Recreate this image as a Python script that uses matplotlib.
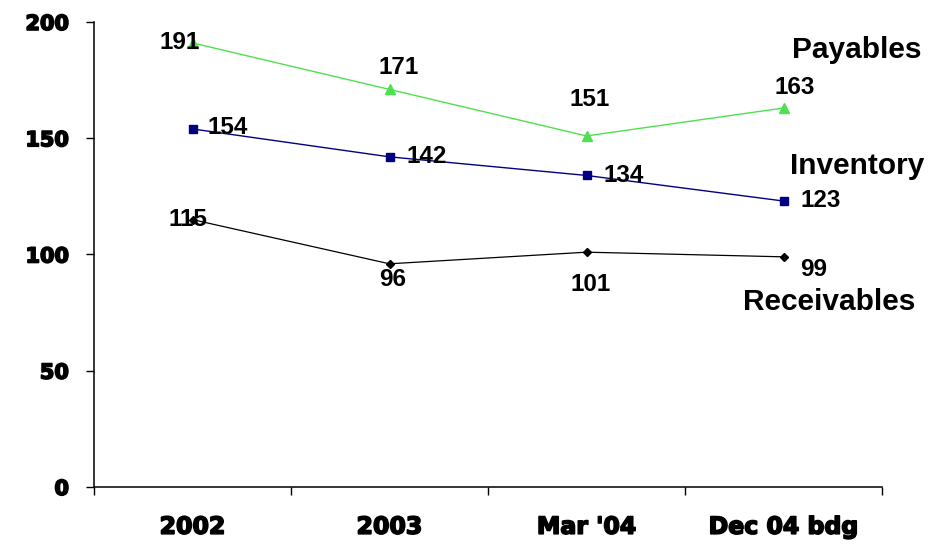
import numpy as np
import matplotlib.pyplot as plt
import matplotlib.patheffects as pe

categories = ["2002", "2003", "Mar '04", "Dec 04 bdg"]
payables = [191, 171, 151, 163]
inventory = [154, 142, 134, 123]
receivables = [115, 96, 101, 99]

# label offsets in pixels (dx, dy) from each point
pay_off = [(-13, 0), (9, 22), (3, 36), (11, 21)]
inv_off = [(35, 1), (37, 0), (37, 0), (37, 1)]
rec_off = [(-5, 0), (3, -16), (4, -32), (30, -13)]

DPI = 100
W, H = 947, 545


def px2pt(v):
    return v * 72.0 / DPI


def main():
    fig = plt.figure(figsize=(W / DPI, H / DPI), dpi=DPI)
    ax = fig.add_axes([94 / W, (H - 487) / H, (882 - 94) / W, (487 - 22) / H])

    x = np.arange(len(categories)) + 0.5

    ax.plot(x, payables, color="#4ee04e", lw=1.0, marker="^", ms=7, mec="#4ee04e")
    ax.plot(x, inventory, color="#000080", lw=1.0, marker="s", ms=5.5)
    ax.plot(x, receivables, color="black", lw=0.9, marker="D", ms=4)

    lab_font = dict(family="Liberation Sans", weight="bold", size=17.5)
    for vals, offs in [(payables, pay_off), (inventory, inv_off), (receivables, rec_off)]:
        for xi, v, (dx, dy) in zip(x, vals, offs):
            ax.annotate(str(v), (xi, v), xytext=(px2pt(dx), px2pt(dy)),
                        textcoords="offset points", ha="center", va="center",
                        **lab_font)

    ax.set_xlim(0, len(categories))
    ax.set_ylim(0, 200)
    for s in ["top", "right"]:
        ax.spines[s].set_visible(False)
    for s in ["left", "bottom"]:
        ax.spines[s].set_linewidth(1.1)

    heavy = [pe.withStroke(linewidth=1.2, foreground="black")]

    ax.set_yticks([0, 50, 100, 150, 200])
    ax.tick_params(axis="y", length=6, width=1.0, pad=12, labelsize=15)
    for t in ax.get_yticklabels():
        t.set_fontweight("bold")
        t.set_family("DejaVu Sans")
        t.set_path_effects(heavy)

    ax.set_xticks(np.arange(len(categories) + 1))
    ax.set_xticklabels([])
    ax.tick_params(axis="x", which="major", length=6, width=1.0)
    ax.set_xticks(x, minor=True)
    ax.set_xticklabels(categories, minor=True)
    ax.tick_params(axis="x", which="minor", length=0, pad=20, labelsize=17)
    for t in ax.get_xticklabels(minor=True):
        t.set_fontweight("bold")
        t.set_family("DejaVu Sans")
        t.set_path_effects(heavy)

    name_font = dict(family="Liberation Sans", weight="bold", size=21.5,
                     ha="center", va="baseline")
    fig.text(857 / W, 1 - 57.5 / H, "Payables", **name_font)
    fig.text(857 / W, 1 - 174.5 / H, "Inventory", **name_font)
    fig.text(829 / W, 1 - 309.5 / H, "Receivables", **name_font)

    fig.savefig("out.png", dpi=DPI)


if __name__ == "__main__":
    main()
